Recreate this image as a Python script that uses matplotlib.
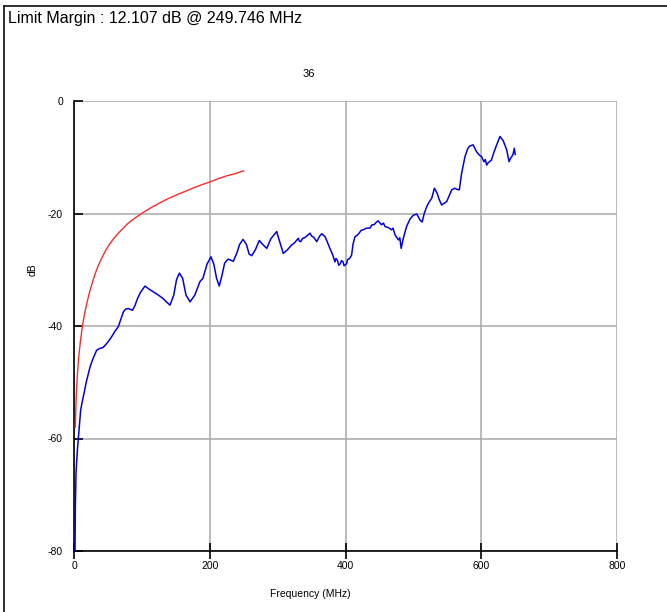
import matplotlib
matplotlib.use("Agg")
import matplotlib.pyplot as plt
from matplotlib.lines import Line2D

plt.rcParams['font.family'] = ['Liberation Sans', 'DejaVu Sans']
plt.rcParams['axes.unicode_minus'] = False

header_text = "Limit Margin : 12.107 dB @ 249.746 MHz"
chart_title = "36"
x_label = "Frequency (MHz)"
y_label = "dB"
x_ticks = [0, 200, 400, 600, 800]
y_ticks = [0, -20, -40, -60, -80]

# Limit line (red)
limit_freq = [1.9, 2.2, 2.5, 3, 3.5, 4, 4.5, 5, 5.7, 6.4, 7.2, 8, 9, 10, 11, 12, 13, 14,
              15.5, 17, 18.5, 20, 22, 24, 26, 28.5, 31.5, 35, 39, 43, 47, 52, 57, 63, 70,
              80, 90, 102, 113, 125, 138, 151, 163, 175, 188, 200, 213, 225, 238, 250]
limit_db = [-58.0, -56.7, -55.5, -53.6, -52.1, -50.8, -49.7, -48.7, -47.5, -46.4, -45.3,
            -44.3, -43.2, -42.2, -41.3, -40.4, -39.6, -38.9, -37.9, -37.0, -36.2, -35.4,
            -34.4, -33.5, -32.7, -31.7, -30.6, -29.5, -28.4, -27.4, -26.5, -25.5, -24.7,
            -23.8, -22.9, -21.7, -20.8, -19.8, -19.0, -18.2, -17.4, -16.7, -16.1, -15.5,
            -14.9, -14.4, -13.8, -13.3, -12.9, -12.4]

# Measured trace (blue)
meas_freq = [1.5, 2, 3, 5, 6.4, 8, 9.8, 12, 14.7, 18, 23.6, 28, 33.4, 38, 43, 49, 55.5,
             60, 65.3, 69, 72.7, 76, 80, 86.4, 90, 93.3, 98, 104.6, 110, 121.8, 130,
             141.4, 147, 151, 155.2, 160, 165, 171, 178, 185.6, 190, 196, 201.8, 206,
             210, 214, 218, 222, 227, 234.7, 240, 244, 249, 254, 258, 261.8, 267, 273,
             278, 284, 290, 298.6, 303, 308.4, 314, 320.7, 325, 330.5, 332, 334, 337,
             340, 344, 347.7, 350, 353, 357.6, 362, 365, 369.8, 373, 377, 381, 384.5,
             386, 388, 390, 392, 394, 396, 398, 401.7, 403, 406, 409, 411, 414, 417,
             420, 423, 426, 431, 436, 439, 442, 445, 448, 453, 456, 458, 463, 468, 470,
             473, 478, 480, 482, 485, 490, 495, 500, 505, 510, 513, 516, 519.6, 523,
             527, 531, 535, 538, 541.7, 545, 549, 553, 556.5, 561, 564, 567.7, 571,
             576, 580, 583, 588, 593, 597, 600.6, 602, 604, 606, 608, 610, 612, 615,
             619, 622.7, 627.6, 632.5, 637.5, 639, 641, 643, 645, 647, 648.7, 650]
meas_db = [-80.0, -72.0, -66.0, -62.0, -60.0, -57.5, -55.0, -53.5, -52.0, -50.0, -47.3,
           -45.8, -44.3, -44.0, -43.8, -43.0, -41.9, -41.0, -40.1, -38.8, -37.5, -37.0,
           -36.9, -37.2, -36.3, -35.2, -34.0, -32.9, -33.4, -34.3, -35.0, -36.3, -34.5,
           -31.8, -30.6, -31.5, -34.5, -35.7, -34.5, -32.1, -31.5, -29.0, -27.7, -29.0,
           -31.5, -32.9, -31.0, -28.8, -28.1, -28.5, -27.0, -25.5, -24.6, -25.5, -27.2,
           -27.5, -26.5, -24.8, -25.5, -26.2, -24.5, -23.2, -25.0, -27.1, -26.5, -25.6,
           -25.2, -24.4, -24.9, -25.0, -24.4, -24.3, -23.9, -23.5, -24.0, -24.2, -25.0,
           -24.0, -23.6, -24.1, -25.0, -26.2, -27.3, -28.6, -28.0, -28.3, -29.2, -29.0,
           -28.4, -28.5, -29.3, -28.9, -28.2, -28.0, -27.4, -25.5, -24.1, -23.9, -23.5,
           -23.0, -22.9, -22.6, -22.6, -22.0, -22.0, -21.6, -21.3, -22.0, -21.7, -22.3,
           -22.5, -22.9, -22.6, -23.8, -24.7, -24.3, -26.2, -24.5, -22.3, -21.0, -20.3,
           -20.1, -21.2, -21.5, -20.0, -18.8, -18.0, -17.3, -15.5, -16.4, -17.5, -18.5,
           -18.2, -17.9, -16.8, -15.8, -15.5, -15.7, -15.8, -12.9, -9.9, -8.5, -8.0,
           -7.8, -9.0, -9.6, -9.9, -10.3, -10.8, -10.4, -11.4, -11.0, -10.8, -10.5,
           -9.0, -7.8, -6.3, -7.1, -8.7, -9.6, -10.8, -10.2, -9.9, -9.4, -8.4, -9.5]

W, H = 667, 612
fig = plt.figure(figsize=(W / 100, H / 100), dpi=100)
ax = fig.add_axes([74 / W, 1 - 551 / H, (617 - 74) / W, (551 - 101) / H])

ax.plot(limit_freq, limit_db, color='#ff2a2a', lw=1.0, zorder=3)
ax.plot(meas_freq, meas_db, color='#0000e6', lw=1.1, zorder=4)

ax.set_xlim(0, 800)
ax.set_ylim(-80, 0)
ax.set_xticks(x_ticks)
ax.set_yticks(y_ticks)
ax.tick_params(axis='x', direction='inout', length=11, width=1.2, labelsize=7.5, pad=2,
               colors='black')
ax.tick_params(axis='y', direction='in', length=6.5, width=1.2, labelsize=7.5, pad=8,
               colors='black')
ax.grid(True, color='#a8a8a8', lw=1.1, zorder=0)
ax.set_axisbelow(True)
for s in ['top', 'right']:
    ax.spines[s].set_visible(False)
for s in ['left', 'bottom']:
    ax.spines[s].set_linewidth(1.2)
    ax.spines[s].set_color('black')

fig.text(309 / W, 1 - 74 / H, chart_title, ha='center', va='center', fontsize=8)
fig.text(310 / W, 1 - 594 / H, x_label, ha='center', va='center', fontsize=7.5)
fig.text(33 / W, 1 - 270 / H, y_label, ha='center', va='center', fontsize=7.5,
         rotation=90)
fig.text(8 / W, 1 - 18 / H, header_text, ha='left', va='center', fontsize=11.5)

# frame lines at figure edges
fig.add_artist(Line2D([3.5 / W, 3.5 / W], [0, 1 - 6 / H], color='#202020', lw=1.3,
                      transform=fig.transFigure))
fig.add_artist(Line2D([3.5 / W, 1], [1 - 6 / H, 1 - 6 / H], color='#202020', lw=1.3,
                      transform=fig.transFigure))

fig.savefig('out.png', dpi=100)
